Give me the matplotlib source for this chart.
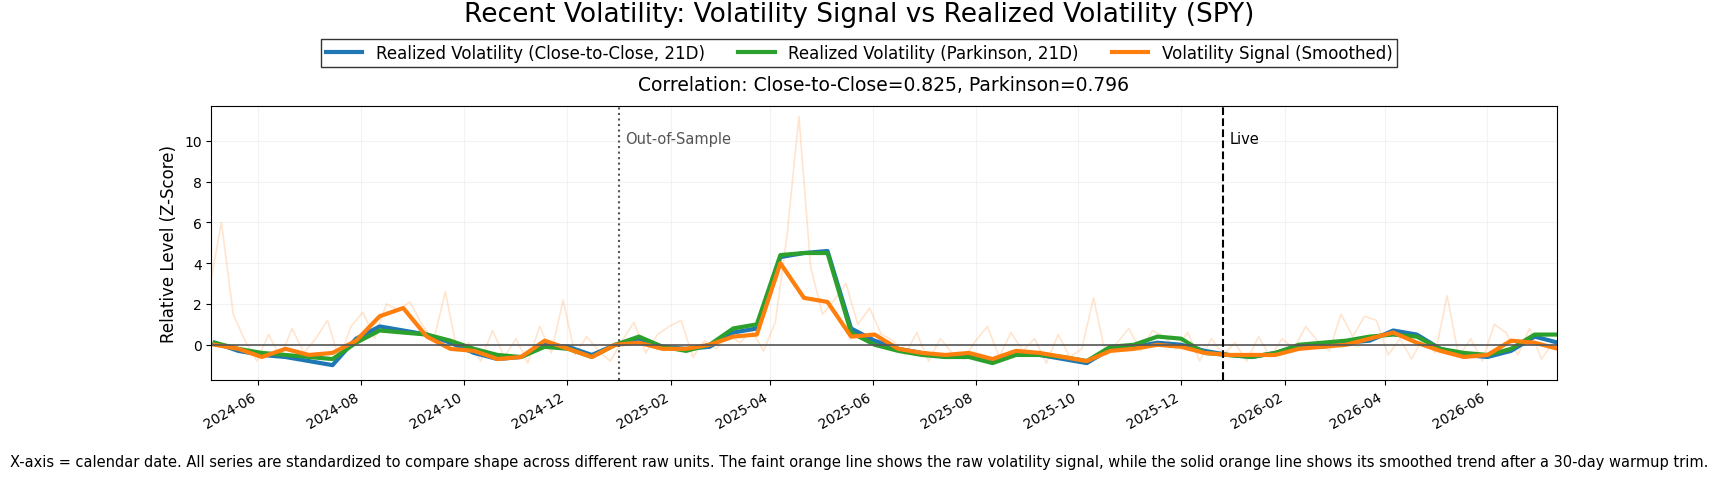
import pandas as pd
import numpy as np
import matplotlib.pyplot as plt

# biweekly readings of the standardized series
dates = pd.date_range('2024-05-06', periods=58, freq='14D')
rv_cc = [0.1, -0.3, -0.5, -0.6, -0.8, -1.0, 0.3, 0.9, 0.7, 0.5, 0.1, -0.4, -0.7, -0.6,
         0.0, -0.1, -0.5, 0.0, 0.3, -0.1, -0.2, -0.1, 0.6, 0.8, 4.3, 4.5, 4.6, 0.8,
         0.2, -0.2, -0.4, -0.6, -0.5, -0.8, -0.4, -0.5, -0.7, -0.9, -0.2, -0.1, 0.1, 0.0,
         -0.3, -0.5, -0.6, -0.4, -0.1, -0.1, 0.1, 0.2, 0.7, 0.5, -0.2, -0.5, -0.6, -0.3,
         0.4, 0.1]
rv_park = [0.1, -0.2, -0.4, -0.5, -0.6, -0.7, 0.1, 0.7, 0.6, 0.5, 0.2, -0.2, -0.5, -0.6,
           -0.1, -0.2, -0.6, 0.0, 0.4, -0.1, -0.3, 0.0, 0.8, 1.0, 4.4, 4.5, 4.5, 0.6,
           0.0, -0.3, -0.5, -0.6, -0.6, -0.9, -0.5, -0.5, -0.6, -0.8, -0.1, 0.0, 0.4, 0.3,
           -0.4, -0.5, -0.6, -0.4, 0.0, 0.1, 0.2, 0.4, 0.5, 0.4, -0.2, -0.4, -0.5, -0.2,
           0.5, 0.5]
sig_smooth = [0.0, -0.2, -0.6, -0.2, -0.5, -0.4, 0.2, 1.4, 1.8, 0.4, -0.2, -0.3, -0.7, -0.6,
              0.2, -0.2, -0.6, 0.0, 0.1, -0.2, -0.2, 0.0, 0.4, 0.5, 4.0, 2.3, 2.1, 0.4,
              0.5, -0.2, -0.4, -0.5, -0.4, -0.7, -0.3, -0.4, -0.6, -0.8, -0.3, -0.2, 0.0, -0.1,
              -0.4, -0.5, -0.5, -0.5, -0.2, -0.1, 0.0, 0.3, 0.6, 0.1, -0.3, -0.6, -0.5, 0.2,
              0.1, -0.2]
raw_dates = pd.date_range('2024-05-03', periods=116, freq='7D')
sig_raw = [2.8, 6.0, 1.5, 0.2, -0.8, 0.5, -0.6, 0.8, -0.4, 0.3, 1.2, -0.7, 0.9, 1.6,
           0.3, 2.0, 1.7, 2.1, 1.0, 0.2, 2.6, -0.3, 0.1, -0.8, 0.7, -0.6, 0.3, -0.9, 0.9,
           -0.4, 2.2, -0.5, 0.4, -0.3, -0.8, 0.2, 1.1, -0.4, 0.5, 0.9, 1.2, -0.6, 0.2,
           -0.2, 0.5, 0.1, 0.7, -0.3, 1.1, 5.4, 11.2, 3.8, 1.5, 2.2, 3.0, 1.0, 1.8, 0.5,
           0.2, -0.5, 0.6, -0.8, 0.3, -0.4, -0.7, 0.2, 0.9, -0.6, 0.6, -0.3, 0.3, -0.9,
           0.5, -0.6, -0.2, 2.3, -0.4, 0.1, 0.8, -0.3, 0.7, 0.4, -0.2, 0.6, -0.8, 0.3,
           -0.5, 0.1, -0.8, 0.4, -0.6, 0.3, -0.2, 0.9, 0.2, -0.3, 1.5, 0.4, 1.4, 1.2,
           -0.5, 0.3, -0.7, 0.4, -0.4, 2.4, -0.6, 0.3, -0.8, 1.0, 0.6, -0.5, 0.8, -0.7,
           0.1, -0.3]

oos_date = pd.Timestamp('2025-01-01')
live_date = pd.Timestamp('2025-12-26')

fig, ax = plt.subplots(figsize=(17.18, 4.81), dpi=100)
ax.plot(raw_dates, sig_raw, color='#ff7f0e', alpha=0.2, lw=1.2)
ax.plot(dates, rv_cc, color='#1f77b4', lw=3, label='Realized Volatility (Close-to-Close, 21D)')
ax.plot(dates, rv_park, color='#2ca02c', lw=3, label='Realized Volatility (Parkinson, 21D)')
ax.plot(dates, sig_smooth, color='#ff7f0e', lw=3, label='Volatility Signal (Smoothed)')
ax.axhline(0, color='#555555', lw=1.2)
ax.axvline(oos_date, color='#555555', ls=':', lw=1.5)
ax.axvline(live_date, color='black', ls='--', lw=1.5)
ax.text(oos_date + pd.Timedelta(days=4), 9.9, 'Out-of-Sample', color='#555555', fontsize=10.5)
ax.text(live_date + pd.Timedelta(days=4), 9.9, 'Live', color='black', fontsize=10.5)

ax.set_xlim(pd.Timestamp('2024-05-04'), pd.Timestamp('2026-07-12'))
ax.set_ylim(-1.75, 11.7)
ax.set_yticks([0, 2, 4, 6, 8, 10])
ticks = pd.date_range('2024-06-01', '2026-06-01', freq='2MS')
ax.set_xticks(ticks)
ax.set_xticklabels([t.strftime('%Y-%m') for t in ticks], rotation=30, ha='right')
ax.grid(True, alpha=0.15)
ax.set_ylabel('Relative Level (Z-Score)', fontsize=12)
ax.set_title('Correlation: Close-to-Close=0.825, Parkinson=0.796', fontsize=13.5, pad=12)
fig.suptitle('Recent Volatility: Volatility Signal vs Realized Volatility (SPY)', fontsize=19, y=0.995)
fig.legend(loc='upper center', bbox_to_anchor=(0.5, 0.935), ncol=3, fontsize=12,
           fancybox=False, edgecolor='black', borderpad=0.3, handlelength=2.2)
fig.text(0.5, 0.03, 'X-axis = calendar date. All series are standardized to compare shape across different raw units. '
         'The faint orange line shows the raw volatility signal, while the solid orange line shows its smoothed trend after a 30-day warmup trim.',
         ha='center', fontsize=10.5)
fig.subplots_adjust(left=0.123, right=0.906, top=0.777, bottom=0.207)
fig.savefig('out.png')
